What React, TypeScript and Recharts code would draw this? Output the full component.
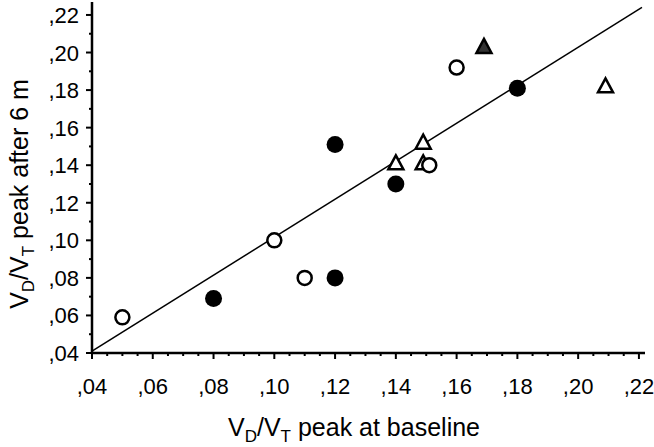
import React from "react"
import { Label, Scatter, ScatterChart, XAxis, YAxis } from "recharts"

const xMajorTicks = [0.04, 0.06, 0.08, 0.1, 0.12, 0.14, 0.16, 0.18, 0.2, 0.22]
const xMinorTicks = [
  0.045, 0.05, 0.055, 0.065, 0.07, 0.075, 0.085, 0.09, 0.095, 0.105, 0.11, 0.115,
  0.125, 0.13, 0.135, 0.145, 0.15, 0.155, 0.165, 0.17, 0.175, 0.185, 0.19, 0.195,
  0.205, 0.21, 0.215,
]
const yMajorTicks = [0.04, 0.06, 0.08, 0.1, 0.12, 0.14, 0.16, 0.18, 0.2, 0.22]
const yMinorTicks = [0.05, 0.07, 0.09, 0.11, 0.13, 0.15, 0.17, 0.19, 0.21]

const openCircles = [
  { x: 0.05, y: 0.059 },
  { x: 0.1, y: 0.1 },
  { x: 0.11, y: 0.08 },
  { x: 0.151, y: 0.14 },
  { x: 0.16, y: 0.192 },
]
const filledCircles = [
  { x: 0.08, y: 0.069 },
  { x: 0.12, y: 0.08 },
  { x: 0.12, y: 0.151 },
  { x: 0.14, y: 0.13 },
  { x: 0.18, y: 0.181 },
]
const openTriangles = [
  { x: 0.14, y: 0.141 },
  { x: 0.149, y: 0.152 },
  { x: 0.149, y: 0.141 },
  { x: 0.209, y: 0.182 },
]
const filledTriangles = [{ x: 0.169, y: 0.203 }]
const fitLine = [
  { x: 0.04, y: 0.041 },
  { x: 0.221, y: 0.224 },
]

const FONT = "'Liberation Sans', Arial, sans-serif"

const isMajor = (v: number, list: number[]) => list.some((m) => Math.abs(m - v) < 1e-6)
const fmt = (v: number) => "," + Math.round(v * 100).toString().padStart(2, "0")

function XTick({ x, y, payload }: any) {
  const major = isMajor(payload.value, xMajorTicks)
  return (
    <g>
      <line x1={x} x2={x} y1={y} y2={y + (major ? 6 : 3)} stroke="#000" strokeWidth={2} />
      {major && (
        <text x={x} y={y + 41} textAnchor="middle" fontSize={22} fontFamily={FONT} fill="#000">
          {fmt(payload.value)}
        </text>
      )}
    </g>
  )
}

function YTick({ x, y, payload }: any) {
  const major = isMajor(payload.value, yMajorTicks)
  return (
    <g>
      <line x1={x} x2={x - (major ? 6 : 3)} y1={y} y2={y} stroke="#000" strokeWidth={2} />
      {major && (
        <text x={x - 13} y={y + 8} textAnchor="end" fontSize={22} fontFamily={FONT} fill="#000">
          {fmt(payload.value)}
        </text>
      )}
    </g>
  )
}

function XTitle() {
  return (
    <text x={354} y={436} textAnchor="middle" fontSize={25} fontFamily={FONT} fill="#000">
      <tspan>V</tspan>
      <tspan fontSize={17} dy={6}>D</tspan>
      <tspan dy={-6}>/V</tspan>
      <tspan fontSize={17} dy={6}>T</tspan>
      <tspan dy={-6}>{"\u00a0peak at baseline"}</tspan>
    </text>
  )
}

function YTitle() {
  return (
    <text
      transform="translate(28,194) rotate(-90)"
      textAnchor="middle"
      fontSize={25}
      fontFamily={FONT}
      fill="#000"
    >
      <tspan>V</tspan>
      <tspan fontSize={17} dy={6}>D</tspan>
      <tspan dy={-6}>/V</tspan>
      <tspan fontSize={17} dy={6}>T</tspan>
      <tspan dy={-6}>{"\u00a0peak after 6 m"}</tspan>
    </text>
  )
}

const OpenCircle = ({ cx, cy }: any) => (
  <circle cx={cx} cy={cy} r={7} fill="#fff" stroke="#000" strokeWidth={2.5} />
)
const FilledCircle = ({ cx, cy }: any) => <circle cx={cx} cy={cy} r={8.5} fill="#000" />
const triPath = (cx: number, cy: number) =>
  `M${cx},${cy - 8} L${cx + 7.5},${cy + 6} L${cx - 7.5},${cy + 6} Z`
const OpenTriangle = ({ cx, cy }: any) => (
  <path d={triPath(cx, cy)} fill="#fff" stroke="#000" strokeWidth={2.5} />
)
const FilledTriangle = ({ cx, cy }: any) => (
  <path d={triPath(cx, cy)} fill="#333" stroke="#000" strokeWidth={2.5} />
)
const NoShape = () => <g />

export default function App() {
  return (
    <div style={{ width: 654, height: 447, background: "#fff" }}>
      <style>{`body{margin:0;}`}</style>
      <ScatterChart width={654} height={447} margin={{ top: 2, right: 9, bottom: 93, left: 91 }}>
        <XAxis
          type="number"
          dataKey="x"
          domain={[0.04, 0.222]}
          ticks={[...xMajorTicks, ...xMinorTicks]}
          interval={0}
          tick={<XTick />}
          tickLine={false}
          tickSize={0}
          tickMargin={0}
          height={1}
          axisLine={{ stroke: "#000", strokeWidth: 2.5 }}
          allowDataOverflow
        >
          <Label content={<XTitle />} />
        </XAxis>
        <YAxis
          type="number"
          dataKey="y"
          domain={[0.04, 0.2269]}
          ticks={[...yMajorTicks, ...yMinorTicks]}
          interval={0}
          tick={<YTick />}
          tickLine={false}
          tickSize={0}
          tickMargin={0}
          width={1}
          axisLine={{ stroke: "#000", strokeWidth: 2.5 }}
          allowDataOverflow
        >
          <Label content={<YTitle />} />
        </YAxis>
        <Scatter
          data={fitLine}
          line={{ stroke: "#000", strokeWidth: 1.5 }}
          shape={<NoShape />}
          isAnimationActive={false}
        />
        <Scatter data={openTriangles} shape={<OpenTriangle />} isAnimationActive={false} />
        <Scatter data={filledTriangles} shape={<FilledTriangle />} isAnimationActive={false} />
        <Scatter data={filledCircles} shape={<FilledCircle />} isAnimationActive={false} />
        <Scatter data={openCircles} shape={<OpenCircle />} isAnimationActive={false} />
      </ScatterChart>
    </div>
  )
}
